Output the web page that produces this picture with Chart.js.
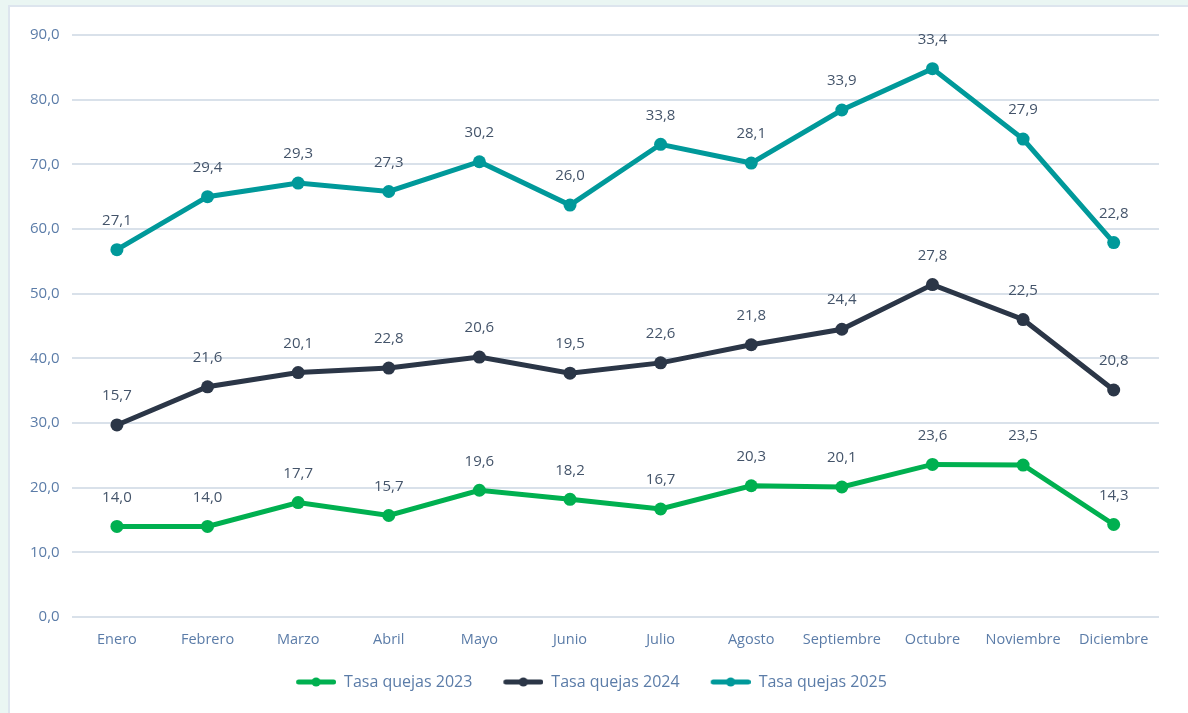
<!DOCTYPE html>
<html>
<head>
<meta charset="utf-8">
<script src="https://cdn.jsdelivr.net/npm/chart.js@4/dist/chart.umd.min.js"></script>
<style>
  html, body { margin: 0; padding: 0; }
  body { width: 1188px; height: 713px; background: #eaf6f3; position: relative; overflow: hidden; }
  #frame { position: absolute; left: 8px; top: 5px; width: 1178px; height: 720px; background: #fff; border: 2px solid #dde5ee; }
  #wrap { position: absolute; left: 0; top: 0; width: 1188px; height: 713px; }
</style>
</head>
<body>
<div id="frame"></div>
<div id="wrap"><canvas id="chartQuejas"></canvas></div>
<script>
const meses = ['Enero', 'Febrero', 'Marzo', 'Abril', 'Mayo', 'Junio', 'Julio', 'Agosto', 'Septiembre', 'Octubre', 'Noviembre', 'Diciembre']
const tasa2023 = [14.0, 14.0, 17.7, 15.7, 19.6, 18.2, 16.7, 20.3, 20.1, 23.6, 23.5, 14.3]
const tasa2024 = [15.7, 21.6, 20.1, 22.8, 20.6, 19.5, 22.6, 21.8, 24.4, 27.8, 22.5, 20.8]
const tasa2025 = [27.1, 29.4, 29.3, 27.3, 30.2, 26.0, 33.8, 28.1, 33.9, 33.4, 27.9, 22.8]

const verde  = '#00b050'
const oscuro = '#2b3647'
const teal   = '#00999a'
const tickColor  = '#5b7ca8'
const labelColor = '#44546a'
const gridColor  = '#d9e1ea'
const fuente = "'Open Sans', sans-serif"

const coma = v => v.toFixed(1).replace('.', ',')

// icono de leyenda: línea con punto (hueco a la izquierda para separar items)
function iconoLinea(color) {
  const c = document.createElement('canvas')
  c.width = 46
  c.height = 12
  const ctx = c.getContext('2d')
  ctx.strokeStyle = color
  ctx.lineWidth = 5
  ctx.lineCap = 'round'
  ctx.beginPath()
  ctx.moveTo(8.5, 6)
  ctx.lineTo(43.5, 6)
  ctx.stroke()
  ctx.fillStyle = color
  ctx.beginPath()
  ctx.arc(26, 6, 4.5, 0, Math.PI * 2)
  ctx.fill()
  return c
}

// etiquetas de datos encima de cada punto
const etiquetas = {
  id: 'etiquetas',
  afterDatasetsDraw(chart) {
    const ctx = chart.ctx
    ctx.save()
    ctx.font = '15px ' + fuente
    ctx.fillStyle = labelColor
    ctx.textAlign = 'center'
    ctx.textBaseline = 'middle'
    chart.data.datasets.forEach((ds, i) => {
      const meta = chart.getDatasetMeta(i)
      meta.data.forEach((pt, j) => {
        ctx.fillText(coma(ds.data[j]), pt.x, pt.y - 29)
      })
    })
    ctx.restore()
  }
}

const serie = (label, data, color) => ({
  label,
  data,
  borderColor: color,
  backgroundColor: color,
  borderWidth: 5,
  pointStyle: 'circle',
  pointRadius: 6.5,
  pointHoverRadius: 6.5,
  pointBackgroundColor: color,
  pointBorderWidth: 0,
  fill: false,
  tension: 0
})

new Chart(document.getElementById('chartQuejas'), {
  type: 'line',
  data: {
    labels: meses,
    datasets: [
      serie('Tasa quejas 2023', tasa2023, verde),
      serie('Tasa quejas 2024', tasa2024, oscuro),
      serie('Tasa quejas 2025', tasa2025, teal)
    ]
  },
  options: {
    responsive: true,
    maintainAspectRatio: false,
    animation: false,
    layout: { padding: { top: 35, left: 18, right: 29, bottom: 13 } },
    scales: {
      y: {
        stacked: true,
        min: 0,
        max: 90,
        ticks: {
          stepSize: 10,
          color: tickColor,
          font: { family: fuente, size: 15 },
          padding: 12,
          callback: v => coma(v)
        },
        grid: { color: gridColor, lineWidth: 2, drawTicks: false },
        border: { display: false }
      },
      x: {
        offset: true,
        afterFit: s => { s.height = 32 },
        ticks: {
          color: tickColor,
          font: { family: fuente, size: 14.5 },
          padding: 6
        },
        grid: { display: false },
        border: { display: false }
      }
    },
    plugins: {
      legend: {
        position: 'bottom',
        labels: {
          color: tickColor,
          font: { family: fuente, size: 16 },
          usePointStyle: true,
          pointStyleWidth: 46,
          padding: 25,
          generateLabels(chart) {
            return chart.data.datasets.map((ds, i) => ({
              text: ds.label,
              fillStyle: ds.borderColor,
              strokeStyle: ds.borderColor,
              fontColor: tickColor,
              pointStyle: iconoLinea(ds.borderColor),
              lineWidth: 0,
              hidden: false,
              datasetIndex: i
            }))
          }
        }
      },
      tooltip: { enabled: false }
    }
  },
  plugins: [etiquetas]
})
</script>
</body>
</html>
